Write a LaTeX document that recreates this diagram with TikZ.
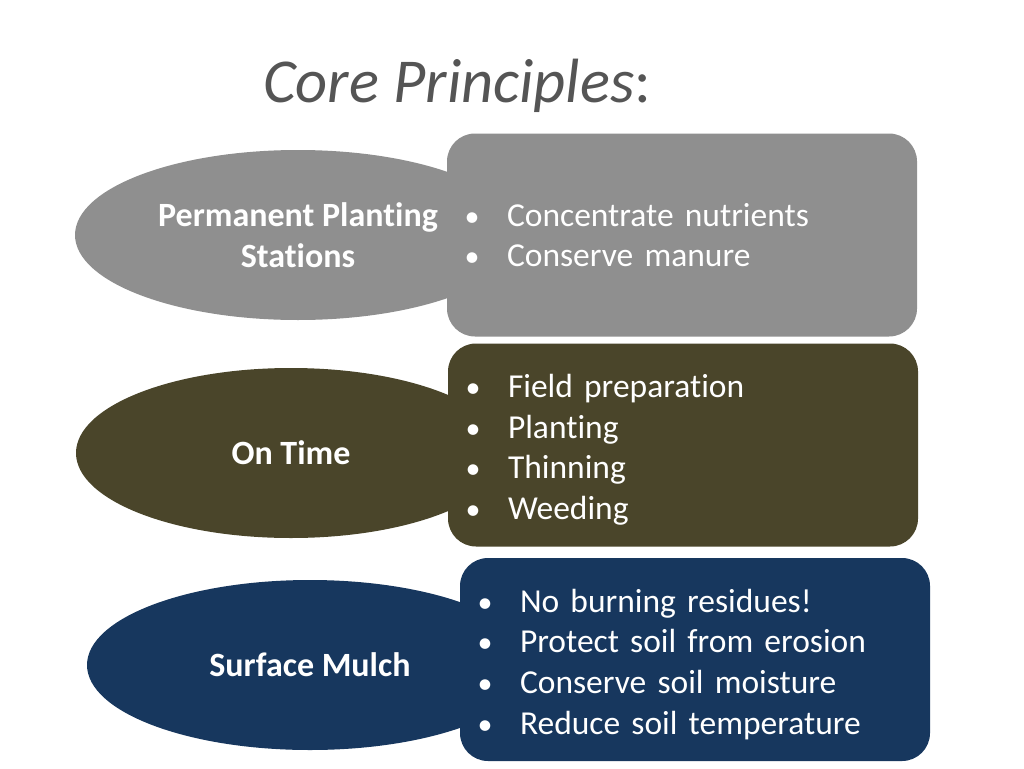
\documentclass[tikz,border=0pt]{standalone}
\usepackage{fontspec}
\setmainfont{Carlito}[Ligatures=NoCommon]
\usetikzlibrary{shapes.geometric}

\definecolor{slategray}{HTML}{8F8F8F}
\definecolor{olivedark}{HTML}{4A452A}
\definecolor{navydark}{HTML}{17375E}
\definecolor{titlegray}{HTML}{555555}

\tikzset{
	principle/.style={ellipse,minimum width=446pt,minimum height=170pt,inner sep=0pt,
		text=white,align=center,font=\fontsize{34}{41}\selectfont\bfseries},
	itembox/.style={rectangle,rounded corners=28pt,minimum height=203pt,inner xsep=16pt,
		text width=438pt,text=white,align=left,font=\fontsize{33.5}{40.7}\selectfont},
}
\newcommand{\itm}[1]{\makebox[44pt][l]{\hspace{1.5pt}\fontsize{30}{30}\selectfont•}#1}
\newcommand{\topitm}[1]{\rule{0pt}{33pt}\itm{#1}}

\begin{document}
\begin{tikzpicture}[x=1pt,y=-1pt]
			\useasboundingbox (0,0) rectangle (1024,768);
			% title
			\node[anchor=base west,inner sep=0pt,text=titlegray,font=\fontsize{62.5}{72}\selectfont]
				(title) at (263,102) {\textit{Core Principles}:};
			% principles (ellipses, behind the boxes)
			\node[principle,fill=slategray] (pps) at (298,235) {Permanent Planting\\Stations};
			\node[principle,fill=olivedark,minimum width=430pt] (ontime) at (291,453) {On Time};
			\node[principle,fill=navydark] (mulch) at (310,665) {Surface Mulch};
			% detail boxes
			\node[itembox,fill=slategray] (ppsbox) at (682,235)
				{\itm{Concentrate nutrients}\\\itm{Conserve manure}};
			\node[itembox,fill=olivedark] (ontimebox) at (683,445)
				{\topitm{Field preparation}\\\itm{Planting}\\\itm{Thinning}\\\itm{Weeding}};
			\node[itembox,fill=navydark] (mulchbox) at (695,659.5)
				{\topitm{No burning residues!}\\\itm{Protect soil from erosion}\\\itm{Conserve soil moisture}\\\itm{Reduce soil temperature}};
		\end{tikzpicture}
\end{document}
